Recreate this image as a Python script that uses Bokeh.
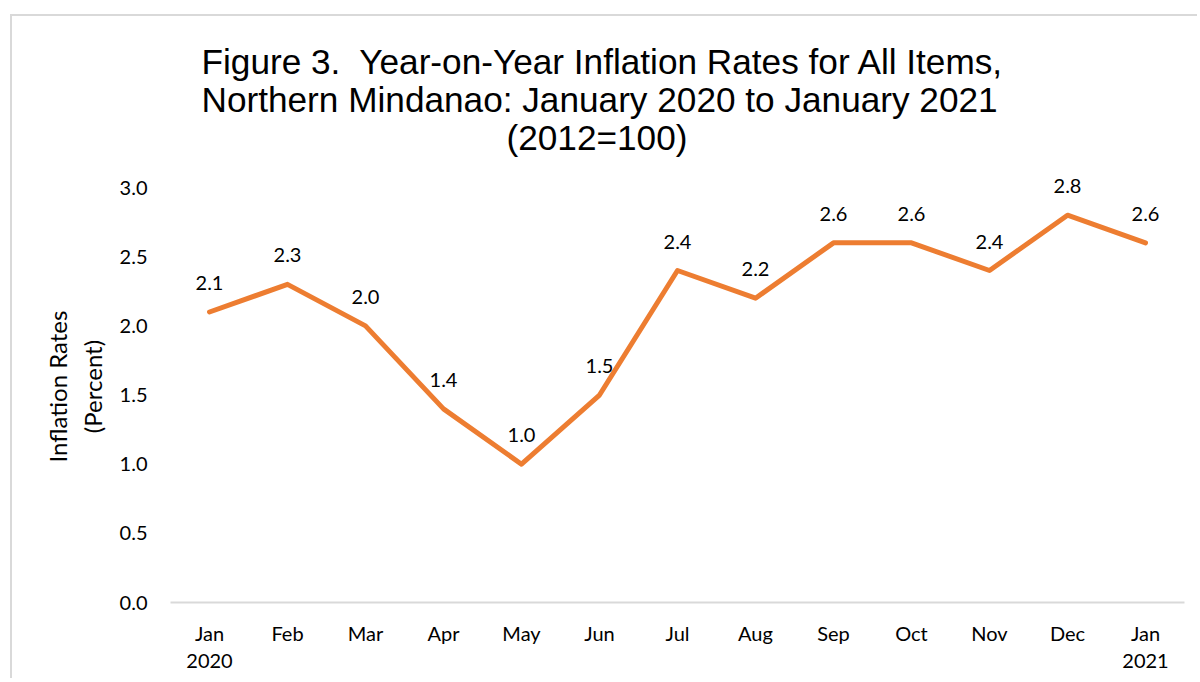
from bokeh.plotting import figure
from bokeh.models import (ColumnDataSource, Range1d, FactorRange, LabelSet, Title,
                          CustomJSTickFormatter)
from bokeh.core.properties import value
from bokeh.embed import file_html
from bokeh.resources import INLINE

months = ["Jan\n2020", "Feb", "Mar", "Apr", "May", "Jun", "Jul", "Aug",
          "Sep", "Oct", "Nov", "Dec", "Jan\n2021"]
rates = [2.1, 2.3, 2.0, 1.4, 1.0, 1.5, 2.4, 2.2, 2.6, 2.6, 2.4, 2.8, 2.6]
rate_labels = [f"{v:.1f}" for v in rates]
y_ticks = [0.0, 0.5, 1.0, 1.5, 2.0, 2.5, 3.0]

title_lines = ["Figure 3.\u00a0 Year-on-Year Inflation Rates for All Items,",
               "Northern Mindanao: January 2020 to January 2021",
               "(2012=100)"]
ylabel_text = "Inflation Rates\n(Percent)"

W, H = 1187, 664
src = ColumnDataSource(dict(x=months, y=rates, t=rate_labels))

p = figure(width=W, height=H, x_range=FactorRange(*months, range_padding=0),
           y_range=Range1d(0, 3.123), output_backend="svg", toolbar_location=None,
           min_border_left=158, min_border_right=15, min_border_top=154,
           min_border_bottom=78,
           styles={"margin-left": "10px", "margin-top": "14px",
                   "border-left": "2px solid #d9d9d9",
                   "border-top": "2px solid #d9d9d9"})
p.outline_line_color = None
p.xgrid.grid_line_color = None
p.ygrid.grid_line_color = None
p.background_fill_color = "white"
p.border_fill_color = "white"

p.line("x", "y", source=src, line_color="#ED7D31", line_width=5,
       line_join="round", line_cap="round")

labels = LabelSet(x="x", y="y", text="t", source=src, y_offset=29,
                  text_align="center", text_baseline="middle",
                  text_font=value("Lato"), text_font_size="20px", text_color="#000000")
p.add_layout(labels)

# axes
p.yaxis.ticker = y_ticks
p.yaxis.formatter = CustomJSTickFormatter(code="return tick.toFixed(1);")
p.yaxis.axis_line_color = None
p.yaxis.major_tick_line_color = None
p.yaxis.minor_tick_line_color = None
p.yaxis.major_label_standoff = 17
p.yaxis.major_label_text_font = "Lato"
p.yaxis.major_label_text_font_size = "20px"
p.yaxis.major_label_text_color = "#000000"
p.yaxis.axis_label = ylabel_text
p.yaxis.axis_label_text_font = "Lato"
p.yaxis.axis_label_text_font_size = "24px"
p.yaxis.axis_label_text_font_style = "normal"
p.yaxis.axis_label_text_color = "#000000"
p.yaxis.axis_label_text_line_height = 1.2
p.yaxis.axis_label_standoff = 10

p.xaxis.axis_line_color = "#d9d9d9"
p.xaxis.axis_line_width = 2
p.xaxis.major_tick_line_color = None
p.xaxis.minor_tick_line_color = None
p.xaxis.major_label_standoff = 12
p.xaxis.major_label_text_font = "Lato"
p.xaxis.major_label_text_font_size = "20px"
p.xaxis.major_label_text_color = "#000000"
p.xaxis.major_label_text_line_height = 1.15

# small spacer between the frame and the title block
p.add_layout(Title(text="\u00a0", standoff=0, text_font_size="11.5px"), "above")


def make_title(text, off, so):
    kw = dict(text=text, align="left", offset=off,
              text_font="Liberation Sans", text_font_size="35.2px",
              text_font_style="normal", text_color="#000000")
    try:
        return Title(standoff=so, **kw)
    except ValueError:
        return Title(standoff=0, **kw)


# title: three lines, each positioned on its own (closest to frame first)
offsets = [336, 31, 31]
standoffs = [0, -6, 0]
for line, off, so in zip(reversed(title_lines), offsets, standoffs):
    p.add_layout(make_title(line, off, so), "above")

open("out.html", "w").write(file_html(p, INLINE))
